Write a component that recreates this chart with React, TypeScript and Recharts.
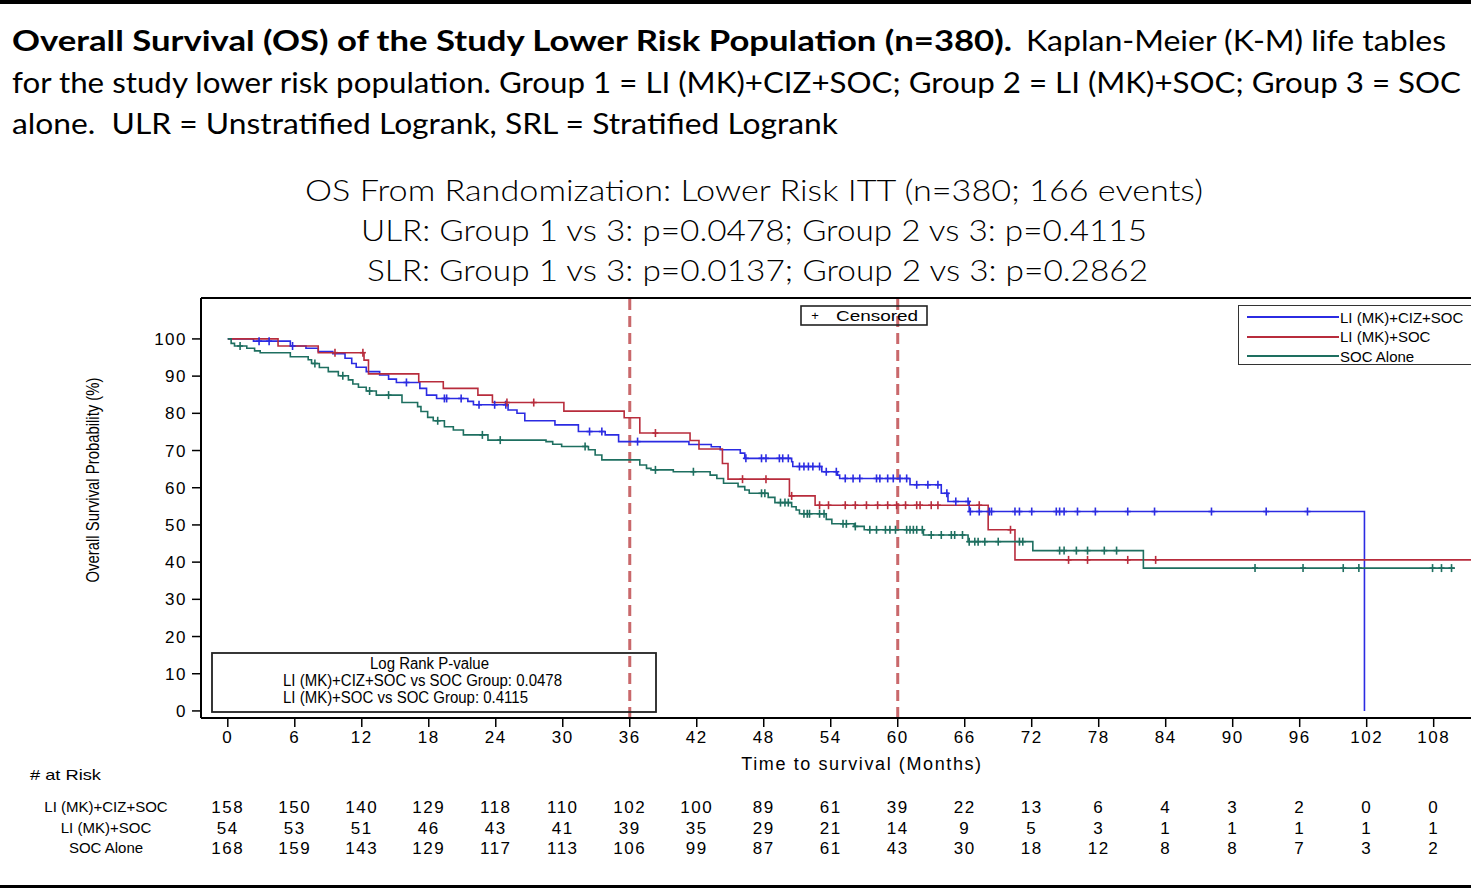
import { ComposedChart, Line, Scatter, XAxis, YAxis, ReferenceLine, Legend } from 'recharts'

// KM step times (months) and survival (%)
const g1Times = [2.3, 5.6, 7.0, 8.1, 9.4, 10.5, 11.1, 11.5, 12.4, 13.6, 14.4, 15.1, 17.2, 17.8, 18.7, 21.5, 22.0, 25.1, 25.9, 26.6, 29.3, 31.4, 33.8, 35.0, 41.3, 43.3, 44.1, 45.9, 46.3, 50.5, 50.6, 53.2, 54.6, 54.8, 61.1, 63.9, 64.5, 66.4, 101.8]
const g1Surv = [99.4, 98.1, 97.5, 96.6, 96.0, 94.8, 93.4, 92.4, 91.2, 90.3, 89.2, 88.3, 86.7, 84.9, 84.0, 83.2, 82.3, 80.9, 80.0, 78.0, 76.9, 75.1, 74.2, 72.4, 71.6, 71.0, 70.2, 69.3, 67.9, 67.0, 65.7, 64.3, 63.4, 62.5, 60.8, 58.5, 56.3, 53.6, 0]
const g1Censor = [2.8, 3.7, 5.8, 16.0, 19.4, 19.6, 20.9, 22.5, 23.9, 24.9, 32.4, 33.5, 36.7, 46.4, 47.8, 48.2, 49.4, 49.7, 50.2, 51.2, 51.6, 52.0, 52.4, 53.0, 53.6, 54.5, 55.3, 56.0, 56.6, 58.1, 58.4, 59.1, 59.6, 60.2, 60.8, 61.7, 62.7, 63.6, 64.4, 65.2, 66.3, 66.5, 67.3, 68.2, 68.4, 70.5, 70.9, 72.0, 74.2, 74.5, 74.9, 76.1, 77.7, 80.6, 83.0, 88.1, 93.0, 96.7]
const g1End = 101.8

const g2Times = [4.5, 8.1, 12.2, 12.6, 17.1, 19.3, 22.4, 23.7, 30.1, 35.5, 36.9, 41.4, 42.2, 44.3, 44.8, 50.3, 52.6, 68.1, 70.5]
const g2Surv = [98.1, 96.3, 94.3, 90.6, 88.5, 86.7, 84.9, 82.9, 80.6, 78.8, 74.7, 72.7, 70.4, 66.5, 62.3, 57.8, 55.3, 48.7, 40.6]
const g2Censor = [9.6, 12.1, 25.0, 27.4, 38.3, 46.1, 48.2, 50.5, 53.0, 53.8, 55.3, 56.2, 57.2, 58.2, 59.1, 59.9, 60.7, 61.7, 62.0, 63.0, 63.6, 67.3, 70.1, 75.3, 77.0, 80.6, 83.1]
const g2End = 115

const g3Times = [0.3, 0.6, 1.7, 2.4, 2.9, 5.6, 7.2, 7.5, 8.2, 9.0, 9.9, 10.8, 11.2, 11.7, 12.4, 13.3, 15.6, 17.0, 17.3, 17.9, 18.4, 19.4, 20.2, 21.1, 23.3, 28.5, 29.1, 29.9, 32.3, 32.9, 33.5, 36.9, 37.5, 37.9, 39.9, 43.2, 43.8, 44.4, 45.7, 46.3, 46.7, 48.4, 49.0, 50.5, 50.9, 51.2, 53.6, 54.1, 56.1, 57.0, 62.3, 66.3, 72.1, 82.0]
const g3Surv = [98.8, 98.1, 97.5, 96.8, 96.3, 95.2, 94.4, 93.4, 92.3, 91.2, 90.1, 89.0, 87.9, 87.0, 86.0, 84.9, 82.9, 81.8, 80.5, 78.9, 78.0, 76.4, 75.5, 74.2, 72.8, 72.4, 71.7, 71.1, 70.2, 68.8, 67.5, 66.1, 65.2, 64.8, 64.3, 63.4, 62.5, 61.2, 60.3, 59.4, 58.5, 57.4, 56.0, 54.9, 54.0, 53.0, 51.5, 50.3, 49.6, 48.7, 47.3, 45.5, 43.1, 38.4]
const g3Censor = [1.1, 7.8, 10.3, 12.7, 14.4, 18.8, 22.8, 24.4, 32.0, 38.3, 41.7, 47.8, 48.1, 49.5, 49.9, 50.2, 51.6, 51.9, 52.1, 53.0, 53.4, 55.1, 55.4, 56.2, 57.5, 58.1, 58.9, 59.3, 59.8, 60.8, 61.1, 61.4, 61.7, 62.2, 63.0, 63.9, 64.8, 65.1, 65.8, 66.4, 66.9, 67.2, 67.8, 69.0, 70.9, 71.2, 74.5, 74.9, 76.0, 77.0, 78.5, 79.6, 92.0, 96.3, 99.9, 101.3, 107.9, 108.7, 109.6]
const g3End = 109.9

const xTicks = [0, 6, 12, 18, 24, 30, 36, 42, 48, 54, 60, 66, 72, 78, 84, 90, 96, 102, 108]
const yTicks = [0, 10, 20, 30, 40, 50, 60, 70, 80, 90, 100]

const atRiskG1 = [158, 150, 140, 129, 118, 110, 102, 100, 89, 61, 39, 22, 13, 6, 4, 3, 2, 0, 0]
const atRiskG2 = [54, 53, 51, 46, 43, 41, 39, 35, 29, 21, 14, 9, 5, 3, 1, 1, 1, 1, 1]
const atRiskG3 = [168, 159, 143, 129, 117, 113, 106, 99, 87, 61, 43, 30, 18, 12, 8, 8, 7, 3, 2]

const groups = [
  { id: 'g1', name: 'LI (MK)+CIZ+SOC', color: '#2b2be2', times: g1Times, surv: g1Surv, censor: g1Censor, end: g1End, atRisk: atRiskG1 },
  { id: 'g2', name: 'LI (MK)+SOC', color: '#b82c3c', times: g2Times, surv: g2Surv, censor: g2Censor, end: g2End, atRisk: atRiskG2 },
  { id: 'g3', name: 'SOC Alone', color: '#1e6f60', times: g3Times, surv: g3Surv, censor: g3Censor, end: g3End, atRisk: atRiskG3 },
]

const X_DOMAIN: [number, number] = [-2.4, 116]
const Y_DOMAIN: [number, number] = [-1.9, 111]
const AXIS_FONT = '"Liberation Sans", Arial, sans-serif'
const TITLE_FONT = 'Lato, "Open Sans", sans-serif'

const stepData = (times: number[], surv: number[], end: number) => [
  { t: 0, s: 100 },
  ...times.map((t, i) => ({ t, s: surv[i] })),
  { t: end, s: surv[surv.length - 1] },
]

const survAt = (times: number[], surv: number[], t: number) => {
  let s = 100
  times.forEach((tt, i) => { if (tt <= t) s = surv[i] })
  return s
}

const censorMark = (color: string) => (props: any) => {
  const { cx, cy } = props
  if (cx == null || cy == null) return <g />
  return (
    <g stroke={color} strokeWidth={1.6}>
      <line x1={cx} x2={cx} y1={cy - 4} y2={cy + 4} />
      <line x1={cx - 3} x2={cx + 3} y1={cy} y2={cy} />
    </g>
  )
}

const noShape = () => <g />

const tickStyle = { fill: '#000', fontSize: 17, fontFamily: AXIS_FONT, letterSpacing: 1.5 }

function KMLegend() {
  return (
    <div style={{ position: 'relative', width: 260, height: 60, border: '1.5px solid #333', boxSizing: 'border-box', fontFamily: AXIS_FONT, fontSize: 15, color: '#000', overflow: 'hidden' }}>
      {groups.map((g, i) => (
        <div key={g.id} style={{ position: 'absolute', left: 8, top: 2 + i * 19.5, height: 18, display: 'flex', alignItems: 'center', whiteSpace: 'nowrap' }}>
          <div style={{ width: 92, height: 2, background: g.color }} />
          <span style={{ marginLeft: 1 }}>{g.name}</span>
        </div>
      ))}
    </div>
  )
}

export default function App() {
  return (
    <div style={{ position: 'fixed', left: 0, top: 0, width: 1471, height: 888, overflow: 'hidden', background: '#fff', fontFamily: AXIS_FONT }}>
      <div style={{ position: 'absolute', left: 0, top: 0, width: 1471, height: 4, background: '#000' }} />

      <div style={{ position: 'absolute', left: 0, top: 290 }}>
        <ComposedChart width={1523} height={572} margin={{ top: 8, right: 0, bottom: 0, left: 0 }}>
          <XAxis xAxisId="main" dataKey="t" type="number" domain={X_DOMAIN} ticks={xTicks} allowDataOverflow interval={0}
            height={83} tickSize={9} tickMargin={4} tick={tickStyle}
            axisLine={{ stroke: '#000', strokeWidth: 2 }} tickLine={{ stroke: '#000', strokeWidth: 1.5 }}
            label={{ value: 'Time to survival (Months)', position: 'insideTop', offset: 39, fill: '#000', fontSize: 18, letterSpacing: 1.6, fontFamily: AXIS_FONT }} />
          {groups.map((g) => (
            <XAxis key={'r' + g.id} xAxisId={'r' + g.id} dataKey="t" type="number" domain={X_DOMAIN} ticks={xTicks} allowDataOverflow interval={0}
              height={g.id === 'g1' ? 21 : 20} tickSize={0} tickMargin={0} axisLine={false} tickLine={false} tick={tickStyle}
              tickFormatter={(v: number) => String(g.atRisk[xTicks.indexOf(v)])} />
          ))}
          <YAxis dataKey="s" type="number" domain={Y_DOMAIN} ticks={yTicks} allowDataOverflow interval={0}
            width={201} tickSize={9} tickMargin={5} tick={tickStyle}
            axisLine={{ stroke: '#000', strokeWidth: 2 }} tickLine={{ stroke: '#000', strokeWidth: 1.5 }} />
          <ReferenceLine xAxisId="main" y={111} stroke="#000" strokeWidth={2} />
          <ReferenceLine xAxisId="main" x={36} stroke="#c9686b" strokeWidth={3} strokeDasharray="11 6" />
          <ReferenceLine xAxisId="main" x={60} stroke="#c9686b" strokeWidth={3} strokeDasharray="11 6" />
          {groups.map((g) => (
            <Line key={'l' + g.id} xAxisId="main" data={stepData(g.times, g.surv, g.end)} dataKey="s" name={g.name}
              type="stepAfter" stroke={g.color} strokeWidth={1.6} dot={false} activeDot={false} isAnimationActive={false} />
          ))}
          {groups.map((g) => (
            <Scatter key={'c' + g.id} xAxisId="main" data={g.censor.map((t) => ({ t, s: survAt(g.times, g.surv, t) }))}
              dataKey="s" shape={censorMark(g.color)} legendType="none" isAnimationActive={false} />
          ))}
          {/* invisible carriers so the at-risk axes get a domain */}
          {groups.map((g) => (
            <Scatter key={'a' + g.id} xAxisId={'r' + g.id} data={xTicks.map((t, i) => ({ t, s: 50, n: g.atRisk[i] }))}
              dataKey="s" shape={noShape} legendType="none" isAnimationActive={false} />
          ))}
          <Legend layout="horizontal" verticalAlign="middle" align="center" content={() => <KMLegend />}
            wrapperStyle={{ position: 'absolute', left: 1238, top: 15, width: 260, height: 60 }} />
        </ComposedChart>
      </div>

      <svg width={1471} height={888} style={{ position: 'absolute', left: 0, top: 0, pointerEvents: 'none' }}>
        <g fontFamily={TITLE_FONT} fill="#000">
          <text x={12} y={51} fontSize={28} fontWeight={700} textLength={1000} lengthAdjust="spacingAndGlyphs">Overall Survival (OS) of the Study Lower Risk Population (n=380).</text>
          <text x={1026} y={51} fontSize={28} textLength={420} lengthAdjust="spacingAndGlyphs">Kaplan-Meier (K-M) life tables</text>
          <text x={12} y={92.5} fontSize={28} textLength={1449} lengthAdjust="spacingAndGlyphs">for the study lower risk population. Group 1 = LI (MK)+CIZ+SOC; Group 2 = LI (MK)+SOC; Group 3 = SOC</text>
          <text x={12} y={134} fontSize={28} textLength={826} lengthAdjust="spacingAndGlyphs" xmlSpace="preserve">alone.  ULR = Unstratified Logrank, SRL = Stratified Logrank</text>
          <text x={305} y={201} fontSize={30} fontWeight={300} textLength={898} lengthAdjust="spacingAndGlyphs">OS From Randomization: Lower Risk ITT (n=380; 166 events)</text>
          <text x={361} y={241} fontSize={30} fontWeight={300} textLength={786} lengthAdjust="spacingAndGlyphs">ULR: Group 1 vs 3: p=0.0478; Group 2 vs 3: p=0.4115</text>
          <text x={367} y={281} fontSize={30} fontWeight={300} textLength={781} lengthAdjust="spacingAndGlyphs">SLR: Group 1 vs 3: p=0.0137; Group 2 vs 3: p=0.2862</text>
        </g>
        <g fontFamily={AXIS_FONT} fill="#000">
          <text transform="translate(99,480) rotate(-90)" textAnchor="middle" fontSize={18} textLength={205} lengthAdjust="spacingAndGlyphs">Overall Survival Probability (%)</text>

          <rect x={801} y={306} width={126} height={19} fill="none" stroke="#222" strokeWidth={1.6} />
          <text x={815} y={320} fontSize={13} textAnchor="middle">+</text>
          <text x={836} y={321} fontSize={15} textLength={82} lengthAdjust="spacingAndGlyphs">Censored</text>

          <rect x={212} y={653} width={444} height={59} fill="none" stroke="#222" strokeWidth={1.8} />
          <text x={429.5} y={669} fontSize={16} textAnchor="middle" textLength={119} lengthAdjust="spacingAndGlyphs">Log Rank P-value</text>
          <text x={283} y={686} fontSize={16} textLength={279} lengthAdjust="spacingAndGlyphs">LI (MK)+CIZ+SOC vs SOC Group: 0.0478</text>
          <text x={283} y={703} fontSize={16} textLength={245} lengthAdjust="spacingAndGlyphs">LI (MK)+SOC vs SOC Group: 0.4115</text>

          <text x={30} y={780} fontSize={15} textLength={71} lengthAdjust="spacingAndGlyphs"># at Risk</text>
          {groups.map((g, i) => (
            <text key={g.id} x={106} y={812 + i * 20.5} fontSize={15} textAnchor="middle">{g.name}</text>
          ))}
        </g>
      </svg>

      <div style={{ position: 'absolute', left: 0, top: 885, width: 1471, height: 3, background: '#000' }} />
    </div>
  )
}
